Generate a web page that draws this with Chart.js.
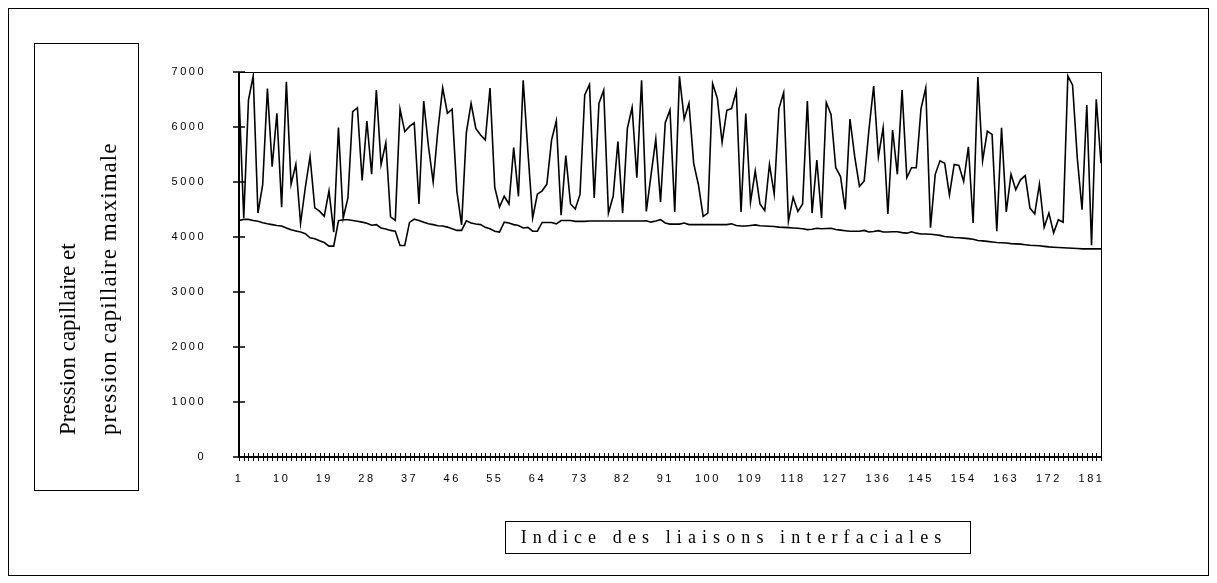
<!DOCTYPE html>
<html>
<head>
<meta charset="utf-8">
<script src="https://cdn.jsdelivr.net/npm/chart.js@4.4.1/dist/chart.umd.min.js"></script>
<style>
  body { margin: 0; background: #fff; }
  #wrap { position: relative; width: 1217px; height: 583px; }
  #frame { position: absolute; left: 8px; top: 8px; width: 1201px; height: 568px; border: 1px solid #000; box-sizing: border-box; }
  #ytitle { position: absolute; left: 34px; top: 43px; width: 105px; height: 448px; border: 1px solid #000; box-sizing: border-box; }
  #ytitle .txt {
    position: absolute; left: 0; top: 0; width: 100%; height: 100%;
    box-sizing: border-box; padding-top: 55px; padding-right: 12px;
    writing-mode: vertical-rl; transform: rotate(180deg);
    font: 23px "Liberation Serif", "Times New Roman", serif; line-height: 41px; color: #000;
  }
  #ytitle .l2 { letter-spacing: 1px; }
  #xtitle {
    position: absolute; left: 505px; top: 521px; width: 466px; height: 33px;
    border: 1px solid #000; box-sizing: border-box; text-align: center; padding-right: 8px;
    font: 18px "Liberation Serif", "Times New Roman", serif; letter-spacing: 6.1px; line-height: 31px; color: #000;
  }
  canvas { position: absolute; left: 0; top: 0; }
</style>
</head>
<body>
<div id="wrap">
  <canvas id="chart" width="1217" height="583"></canvas>
  <div id="frame"></div>
  <div id="ytitle"><div class="txt">Pression capillaire et<br><span class="l2">pression capillaire maximale</span></div></div>
  <div id="xtitle">Indice des liaisons interfaciales</div>
</div>
<script>
// bond index 1..183
const categories = Array.from({ length: 183 }, (_, i) => String(i + 1));
const xTickLabels = ["1", "10", "19", "28", "37", "46", "55", "64", "73", "82", "91", "100",
  "109", "118", "127", "136", "145", "154", "163", "172", "181"];
const yTicks = [0, 1000, 2000, 3000, 4000, 5000, 6000, 7000];

// capillary pressure (zigzag)
const pression = [
  6600, 4345, 6490, 6930, 4435, 4950, 6700, 5280, 6250, 4540,
  6820, 4960, 5320, 4250, 4900, 5460, 4530, 4470, 4375, 4840,
  4090, 5990, 4345, 4710, 6280, 6350, 5030, 6110, 5140, 6670,
  5320, 5715, 4365, 4300, 6325, 5915, 6010, 6075, 4600, 6470,
  5650, 5000, 5950, 6710, 6250, 6325, 4830, 4220, 5900, 6430,
  5975, 5855, 5765, 6710, 4900, 4545, 4740, 4600, 5625, 4740,
  6850, 5550, 4345, 4780, 4840, 4960, 5765, 6110, 4395, 5480,
  4600, 4510, 4775, 6585, 6770, 4710, 6430, 6670, 4435, 4740,
  5735, 4435, 5975, 6355, 5080, 6850, 4465, 5130, 5780, 4635,
  6080, 6310, 4455, 6920, 6145, 6430, 5340, 4950, 4375, 4435,
  6790, 6520, 5720, 6305, 6335, 6650, 4455, 6245, 4635, 5200,
  4600, 4480, 5320, 4780, 6335, 6625, 4285, 4720, 4465, 4600,
  6470, 4435, 5400, 4345, 6445, 6230, 5260, 5100, 4500, 6145,
  5460, 4920, 5020, 5945, 6745, 5460, 5985, 4420, 5945, 5140,
  6670, 5080, 5260, 5260, 6335, 6710, 4170, 5140, 5385, 5340,
  4765, 5320, 5300, 5010, 5640, 4255, 6910, 5385, 5925, 5865,
  4105, 5985, 4455, 5140, 4860, 5040, 5115, 4525, 4420, 4960,
  4175, 4435, 4075, 4315, 4270, 6930, 6760, 5430, 4495, 6400,
  3850, 6505, 5340
];

// maximum capillary pressure (lower curve)
const pressionMax = [
  4300, 4320, 4320, 4300, 4285, 4260, 4240, 4225, 4210, 4200,
  4165, 4130, 4110, 4090, 4060, 3985, 3970, 3930, 3900, 3835,
  3835, 4295, 4315, 4315, 4300, 4285, 4270, 4250, 4215, 4225,
  4165, 4145, 4120, 4105, 3845, 3845, 4265, 4325, 4300, 4270,
  4240, 4225, 4205, 4200, 4180, 4150, 4120, 4120, 4295, 4255,
  4235, 4225, 4175, 4150, 4105, 4090, 4270, 4255, 4225, 4210,
  4165, 4175, 4105, 4105, 4265, 4265, 4265, 4240, 4300, 4300,
  4300, 4285, 4285, 4285, 4290, 4290, 4290, 4290, 4290, 4290,
  4290, 4290, 4290, 4290, 4290, 4290, 4295, 4270, 4290, 4315,
  4255, 4235, 4235, 4235, 4255, 4225, 4225, 4225, 4225, 4225,
  4225, 4225, 4225, 4225, 4240, 4210, 4200, 4200, 4210, 4220,
  4205, 4200, 4195, 4190, 4180, 4175, 4170, 4165, 4160, 4150,
  4135, 4140, 4160, 4150, 4155, 4160, 4135, 4125, 4115, 4105,
  4105, 4105, 4120, 4090, 4100, 4115, 4090, 4090, 4095, 4095,
  4080, 4070, 4095, 4070, 4055, 4055, 4050, 4040, 4030, 4010,
  4000, 3990, 3985, 3980, 3970, 3960, 3935, 3930, 3920, 3910,
  3900, 3895, 3890, 3880, 3875, 3870, 3860, 3850, 3845, 3840,
  3830, 3820, 3815, 3810, 3805, 3800, 3795, 3790, 3785, 3785,
  3785, 3785, 3785
];

/* ===== axis decorations: spaced tick text, crossing tick marks, plot frame ===== */
const axisDeco = {
  id: "axisDeco",
  beforeDraw(chart) {
    chart.ctx.letterSpacing = "2.5px";
  },
  afterDraw(chart) {
    const { ctx, chartArea: a, scales: { x, y } } = chart;
    ctx.save();
    ctx.letterSpacing = "0px";
    ctx.strokeStyle = "#000";

    ctx.lineWidth = 1;
    ctx.strokeRect(a.left + 0.5, a.top + 0.5, a.right - a.left, a.bottom - a.top);

    ctx.lineWidth = 2;
    ctx.beginPath();
    ctx.moveTo(a.left, a.top);
    ctx.lineTo(a.left, a.bottom);
    ctx.lineTo(a.right, a.bottom);
    ctx.stroke();

    ctx.lineWidth = 1.5;
    ctx.beginPath();
    yTicks.forEach(v => {
      const py = Math.round(y.getPixelForValue(v));
      ctx.moveTo(a.left - 6, py);
      ctx.lineTo(a.left + 6, py);
    });
    ctx.stroke();

    ctx.lineWidth = 1;
    ctx.beginPath();
    x.ticks.forEach((t, i) => {
      const px = Math.round(x.getPixelForTick(i)) + 0.5;
      ctx.moveTo(px, a.bottom - 4);
      ctx.lineTo(px, a.bottom + 4);
    });
    ctx.stroke();
    ctx.restore();
  }
};

new Chart(document.getElementById("chart"), {
  type: "line",
  data: {
    labels: categories,
    datasets: [
      {
        label: "Pression capillaire",
        data: pression,
        borderColor: "#000",
        borderWidth: 1.6,
        pointRadius: 0,
        tension: 0,
      },
      {
        label: "Pression capillaire maximale",
        data: pressionMax,
        borderColor: "#000",
        borderWidth: 1.6,
        pointRadius: 0,
        tension: 0,
      },
    ],
  },
  options: {
    responsive: false,
    animation: false,
    layout: { padding: { left: 0, top: 72, right: 116, bottom: 86 } },
    plugins: {
      legend: { display: false },
      tooltip: { enabled: false },
    },
    scales: {
      x: {
        type: "category",
        offset: false,
        grid: { display: false },
        border: { display: false },
        ticks: {
          autoSkip: false,
          maxRotation: 0,
          padding: 7,
          color: "#000",
          font: { family: "Liberation Sans, Arial, sans-serif", size: 11 },
          callback: (v, i) => (xTickLabels.includes(categories[i]) ? categories[i] : ""),
        },
        afterFit: s => { s.height = 40; },
      },
      y: {
        min: 0,
        max: 7000,
        grid: { display: false },
        border: { display: false },
        ticks: {
          stepSize: 1000,
          padding: 25,
          color: "#000",
          font: { family: "Liberation Sans, Arial, sans-serif", size: 11 },
          callback: v => String(v),
        },
        afterFit: s => { s.width = 239; },
      },
    },
  },
  plugins: [axisDeco],
});
</script>
</body>
</html>
